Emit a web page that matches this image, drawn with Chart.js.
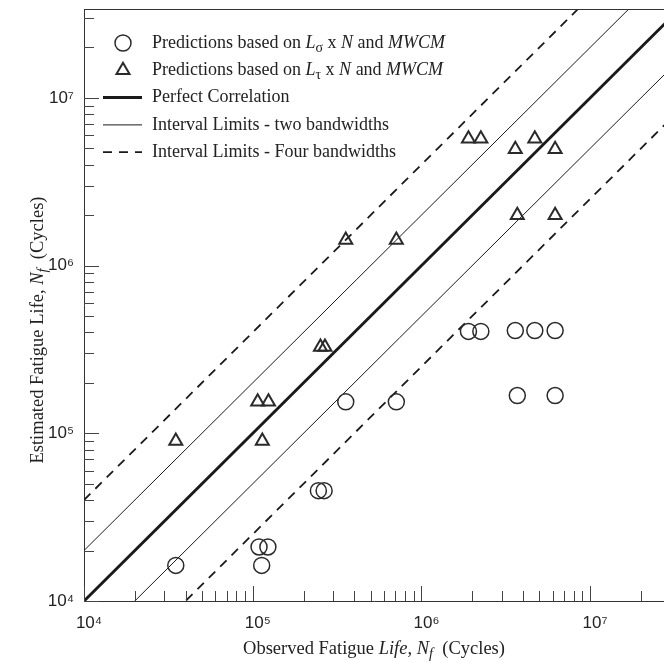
<!DOCTYPE html>
<html lang="en">
<head>
    <meta charset="UTF-8">
    <title>Estimated vs Observed Fatigue Life</title>
    <style>
        html, body { margin: 0; padding: 0; background: #fff; overflow: hidden; }
        #chart { display: block; }
    </style>
</head>
<body>
    <canvas id="chart" width="664" height="664"></canvas>

    <script src="https://cdn.jsdelivr.net/npm/chart.js"></script>
    <script>
        // predictions based on L_sigma x N and MWCM (circles)
        const circleX = [3.5e4, 1.09e5, 1.23e5, 1.13e5, 2.45e5, 2.65e5, 3.56e5, 7.1e5, 1.9e6, 2.25e6, 3.6e6, 4.7e6, 6.2e6, 3.7e6, 6.2e6];
        const circleY = [1.63e4, 2.1e4, 2.1e4, 1.63e4, 4.55e4, 4.55e4, 1.54e5, 1.54e5, 4.05e5, 4.05e5, 4.1e5, 4.1e5, 4.1e5, 1.68e5, 1.68e5];

        // predictions based on L_tau x N and MWCM (triangles)
        const triangleX = [3.5e4, 1.07e5, 1.24e5, 1.14e5, 2.52e5, 2.68e5, 3.56e5, 7.1e5, 1.9e6, 2.25e6, 4.7e6, 3.6e6, 6.2e6, 3.7e6, 6.2e6];
        const triangleY = [9.0e4, 1.54e5, 1.54e5, 9.0e4, 3.27e5, 3.27e5, 1.42e6, 1.42e6, 5.7e6, 5.7e6, 5.7e6, 4.95e6, 4.95e6, 2.0e6, 2.0e6];

        // reference lines (end points)
        const lineX = [1e4, 1e8];
        const perfectY = [1e4, 1e8];
        const twoBandUpperY = [2e4, 2e8];
        const twoBandLowerY = [5e3, 5e7];
        const fourBandUpperY = [4e4, 4e8];
        const fourBandLowerY = [2.5e3, 2.5e7];

        // axes
        const xRange = [1e4, 2.74e7];
        const yRange = [1e4, 3.39e7];
        const supDigits = { "0": "\u2070", "1": "\u00b9", "2": "\u00b2", "3": "\u00b3", "4": "\u2074", "5": "\u2075", "6": "\u2076", "7": "\u2077", "8": "\u2078", "9": "\u2079" };

        const ink = "#222";
        const serif = '"Liberation Serif", "Times New Roman", serif';

        const toPts = (xs, ys) => xs.map((x, i) => ({ x: x, y: ys[i] }));

        const powerLabel = (v) => {
            const e = Math.log10(v);
            if (Math.abs(e - Math.round(e)) > 1e-9) return "";
            return "10" + String(Math.round(e)).split("").map(d => supDigits[d]).join("");
        };

        // draws a string made of parts (italic / subscript)
        function drawRich(ctx, parts, x, y, size, align) {
            const fontOf = p => (p.italic ? "italic " : "") + (p.sub ? size * 0.78 : size) + "px " + serif;
            let w = 0;
            parts.forEach(p => { ctx.font = fontOf(p); p.w = ctx.measureText(p.t).width; w += p.w; });
            let cx = align === "center" ? x - w / 2 : x;
            ctx.textAlign = "left";
            ctx.textBaseline = "middle";
            parts.forEach(p => {
                ctx.font = fontOf(p);
                ctx.fillText(p.t, cx, y + (p.sub ? size * 0.3 : 0));
                cx += p.w;
            });
        }

        const legendRows = [
            { ds: 0, parts: [{ t: "Predictions based on " }, { t: "L", italic: true }, { t: "\u03c3", sub: true }, { t: " x " }, { t: "N", italic: true }, { t: " and " }, { t: "MWCM", italic: true }] },
            { ds: 1, parts: [{ t: "Predictions based on " }, { t: "L", italic: true }, { t: "\u03c4", sub: true }, { t: " x " }, { t: "N", italic: true }, { t: " and " }, { t: "MWCM", italic: true }] },
            { ds: 2, parts: [{ t: "Perfect Correlation" }] },
            { ds: 3, parts: [{ t: "Interval Limits - two bandwidths" }] },
            { ds: 5, parts: [{ t: "Interval Limits - Four bandwidths" }] }
        ];

        const decorPlugin = {
            id: "decor",
            afterDraw(chart) {
                const { ctx, chartArea: a } = chart;
                const xs = chart.scales.x, ys = chart.scales.y;
                ctx.save();

                // top frame
                ctx.strokeStyle = "#333";
                ctx.lineWidth = 1;
                ctx.beginPath();
                ctx.moveTo(a.left, a.top + 0.5);
                ctx.lineTo(a.right, a.top + 0.5);
                ctx.stroke();

                // inward tick marks
                ctx.strokeStyle = "#444";
                for (let e = 4; e <= 7; e++) {
                    for (let m = 1; m <= 9; m++) {
                        const v = m * Math.pow(10, e);
                        const len = m === 1 ? 15 : 10;
                        if (v <= xs.max) {
                            const px = Math.round(xs.getPixelForValue(v)) + 0.5;
                            ctx.beginPath(); ctx.moveTo(px, a.bottom); ctx.lineTo(px, a.bottom - len); ctx.stroke();
                        }
                        if (v <= ys.max) {
                            const py = Math.round(ys.getPixelForValue(v)) + 0.5;
                            ctx.beginPath(); ctx.moveTo(a.left, py); ctx.lineTo(a.left + len, py); ctx.stroke();
                        }
                    }
                }

                // legend
                legendRows.forEach((row, i) => {
                    const ds = chart.data.datasets[row.ds];
                    const cy = a.top + 34 + i * 27.3;
                    ctx.strokeStyle = ds.borderColor;
                    if (ds.pointStyle === "circle" || ds.pointStyle === "triangle") {
                        ctx.fillStyle = "rgba(0,0,0,0)";
                        ctx.lineWidth = ds.borderWidth;
                        Chart.helpers.drawPoint(ctx, {
                            pointStyle: ds.pointStyle, radius: ds.pointRadius,
                            borderWidth: ds.borderWidth, rotation: 0
                        }, 123, cy);
                    } else {
                        ctx.lineWidth = ds.borderWidth;
                        ctx.setLineDash(ds.borderDash || []);
                        ctx.beginPath(); ctx.moveTo(103, cy); ctx.lineTo(142, cy); ctx.stroke();
                        ctx.setLineDash([]);
                    }
                    ctx.fillStyle = ink;
                    drawRich(ctx, row.parts, 152, cy, 18, "left");
                });

                // axis titles
                ctx.fillStyle = ink;
                drawRich(ctx, [{ t: "Observed Fatigue " }, { t: "Life,", italic: true }, { t: " " }, { t: "N", italic: true }, { t: "f", italic: true, sub: true }, { t: "  (Cycles)" }],
                    (a.left + a.right) / 2, 649, 18.5, "center");
                ctx.save();
                ctx.translate(38, 330);
                ctx.rotate(-Math.PI / 2);
                drawRich(ctx, [{ t: "Estimated Fatigue Life, " }, { t: "N", italic: true }, { t: "f", italic: true, sub: true }, { t: "  (Cycles)" }],
                    0, 0, 18.5, "center");
                ctx.restore();

                ctx.restore();
            }
        };

        document.addEventListener("DOMContentLoaded", () => {
            const ctx = document.getElementById("chart").getContext("2d");

            new Chart(ctx, {
                type: "scatter",
                data: {
                    datasets: [
                        {
                            label: "Predictions based on L\u03c3 x N and MWCM",
                            data: toPts(circleX, circleY),
                            pointStyle: "circle",
                            pointRadius: 8,
                            borderWidth: 1.5,
                            borderColor: "#2a2a2a",
                            backgroundColor: "rgba(0,0,0,0)"
                        },
                        {
                            label: "Predictions based on L\u03c4 x N and MWCM",
                            data: toPts(triangleX, triangleY),
                            pointStyle: "triangle",
                            pointRadius: 7.5,
                            borderWidth: 2,
                            borderColor: "#2a2a2a",
                            backgroundColor: "rgba(0,0,0,0)"
                        },
                        {
                            label: "Perfect Correlation",
                            type: "line",
                            data: toPts(lineX, perfectY),
                            borderColor: "#1a1a1a",
                            borderWidth: 3,
                            pointRadius: 0
                        },
                        {
                            label: "Interval Limits - two bandwidths",
                            type: "line",
                            data: toPts(lineX, twoBandUpperY),
                            borderColor: "#1a1a1a",
                            borderWidth: 1,
                            pointRadius: 0
                        },
                        {
                            label: "Interval Limits - two bandwidths (lower)",
                            type: "line",
                            data: toPts(lineX, twoBandLowerY),
                            borderColor: "#1a1a1a",
                            borderWidth: 1,
                            pointRadius: 0
                        },
                        {
                            label: "Interval Limits - Four bandwidths",
                            type: "line",
                            data: toPts(lineX, fourBandUpperY),
                            borderColor: "#1a1a1a",
                            borderWidth: 1.8,
                            borderDash: [9, 7],
                            pointRadius: 0
                        },
                        {
                            label: "Interval Limits - Four bandwidths (lower)",
                            type: "line",
                            data: toPts(lineX, fourBandLowerY),
                            borderColor: "#1a1a1a",
                            borderWidth: 1.8,
                            borderDash: [9, 7],
                            pointRadius: 0
                        }
                    ]
                },
                options: {
                    responsive: false,
                    animation: false,
                    layout: { autoPadding: false, padding: { top: 9, right: 0, left: 0, bottom: 0 } },
                    plugins: {
                        legend: { display: false },
                        tooltip: { enabled: false }
                    },
                    scales: {
                        x: {
                            type: "logarithmic",
                            min: xRange[0],
                            max: xRange[1],
                            grid: { display: false, drawTicks: false },
                            border: { display: true, color: "#333", width: 1 },
                            ticks: {
                                autoSkip: false,
                                maxRotation: 0,
                                padding: 12,
                                labelOffset: 5,
                                color: ink,
                                font: { family: '"Liberation Sans", Arial, sans-serif', size: 17 },
                                callback: (v) => powerLabel(v)
                            },
                            afterFit: (s) => { s.height = 63; s.paddingLeft = 0; s.paddingRight = 0; }
                        },
                        y: {
                            type: "logarithmic",
                            min: yRange[0],
                            max: yRange[1],
                            grid: { display: false, drawTicks: false },
                            border: { display: true, color: "#333", width: 1 },
                            ticks: {
                                autoSkip: false,
                                padding: 10,
                                color: ink,
                                font: { family: '"Liberation Sans", Arial, sans-serif', size: 17 },
                                callback: (v) => powerLabel(v)
                            },
                            afterFit: (s) => { s.width = 84; s.paddingTop = 0; s.paddingBottom = 0; }
                        }
                    }
                },
                plugins: [decorPlugin]
            });
        });
    </script>
</body>
</html>
